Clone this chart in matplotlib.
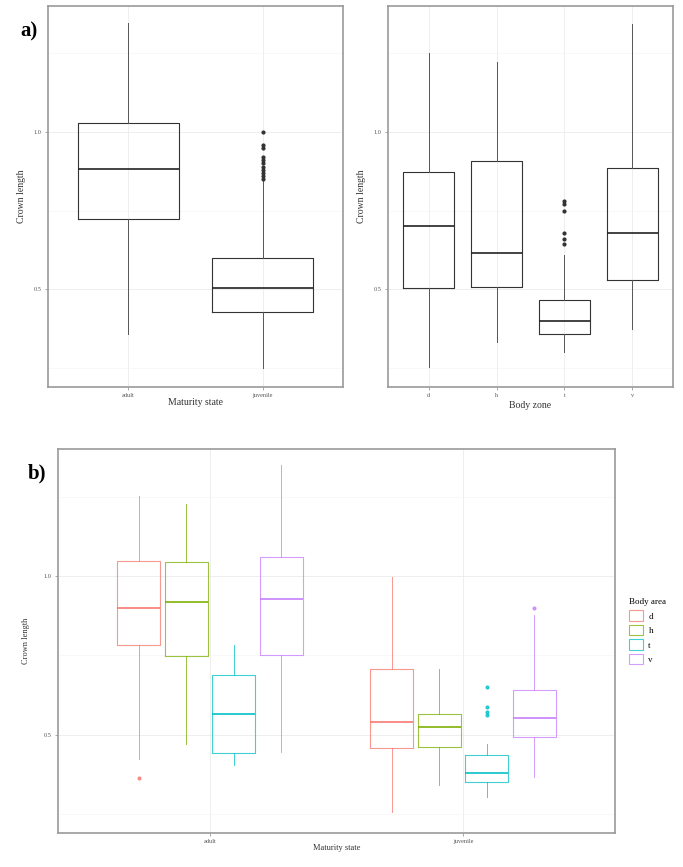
import matplotlib
matplotlib.use("Agg")
import matplotlib.pyplot as plt
from matplotlib.patches import Rectangle

plt.rcParams['font.family'] = ['Liberation Serif', 'DejaVu Serif']

# panel a, left: crown length by maturity state
maturity = ["adult", "juvenile"]
mat_whislo = [0.36, 0.25]
mat_q1 = [0.723, 0.427]
mat_med = [0.882, 0.506]
mat_q3 = [1.029, 0.599]
mat_whishi = [1.347, 0.845]
mat_fliers = [[], [1.0, 0.96, 0.95, 0.92, 0.91, 0.90, 0.89, 0.88, 0.87, 0.86, 0.85]]

# panel a, right: crown length by body zone
zones = ["d", "h", "t", "v"]
zone_whislo = [0.253, 0.332, 0.300, 0.375]
zone_q1 = [0.505, 0.507, 0.359, 0.531]
zone_med = [0.702, 0.617, 0.400, 0.678]
zone_q3 = [0.874, 0.908, 0.467, 0.886]
zone_whishi = [1.251, 1.221, 0.608, 1.343]
zone_fliers = [[], [], [0.78, 0.77, 0.75, 0.68, 0.66, 0.645], []]

# panel b: maturity state x body area
b_whislo = {"adult": [0.424, 0.472, 0.403, 0.445], "juvenile": [0.256, 0.340, 0.303, 0.366]}
b_q1 = {"adult": [0.782, 0.747, 0.443, 0.752], "juvenile": [0.458, 0.461, 0.351, 0.491]}
b_med = {"adult": [0.900, 0.919, 0.566, 0.926], "juvenile": [0.540, 0.524, 0.380, 0.551]}
b_q3 = {"adult": [1.047, 1.043, 0.687, 1.059], "juvenile": [0.706, 0.566, 0.437, 0.642]}
b_whishi = {"adult": [1.252, 1.226, 0.782, 1.350], "juvenile": [0.998, 0.706, 0.470, 0.877]}
b_fliers = {"adult": [[0.363], [], [], []],
            "juvenile": [[], [], [0.651, 0.587, 0.572, 0.562], [0.898]]}

zone_colors = ["#F8766D", "#7CAE00", "#00BFC4", "#C77CFF"]


def make_stats(lo, q1, med, q3, hi, fl):
    return [dict(whislo=a, q1=b, med=c, q3=d, whishi=e, fliers=f)
            for a, b, c, d, e, f in zip(lo, q1, med, q3, hi, fl)]


def style_axes(ax, n):
    ax.set_xlim(0.4, n + 0.6)
    ax.set_ylim(0.19, 1.40)
    ax.set_yticks([0.5, 1.0])
    ax.set_yticklabels(["0.5", "1.0"])
    ax.set_yticks([0.25, 0.75, 1.25], minor=True)
    ax.grid(True, which="major", color="#ebebeb", lw=0.6)
    ax.grid(True, which="minor", color="#f4f4f4", lw=0.4)
    ax.set_axisbelow(True)
    for s in ax.spines.values():
        s.set_color("#9a9a9a")
        s.set_linewidth(1.2)
    ax.tick_params(which="major", length=2.5, width=0.6, color="#9a9a9a",
                   labelsize=4.5, labelcolor="#555555", pad=2)
    ax.tick_params(which="minor", length=0)


fig = plt.figure(figsize=(6.83, 8.67), dpi=100)

# --- a) left
ax1 = fig.add_axes([0.0703, 0.5536, 0.4319, 0.4394])
ax1.bxp(make_stats(mat_whislo, mat_q1, mat_med, mat_q3, mat_whishi, mat_fliers),
        positions=[1, 2], widths=0.75, showcaps=False,
        boxprops=dict(color="#333333", lw=0.8),
        whiskerprops=dict(color="#555555", lw=0.7),
        medianprops=dict(color="#222222", lw=1.2),
        flierprops=dict(marker="o", markersize=2.0, markerfacecolor="#333333",
                        markeredgecolor="#333333"))
style_axes(ax1, 2)
ax1.set_xticks([1, 2])
ax1.set_xticklabels(maturity)
ax1.set_ylabel("Crown length", fontsize=7, color="#333333", labelpad=6)
ax1.set_xlabel("Maturity state", fontsize=7, color="#333333", labelpad=0)

# --- a) right
ax2 = fig.add_axes([0.5681, 0.5536, 0.4173, 0.4394])
ax2.bxp(make_stats(zone_whislo, zone_q1, zone_med, zone_q3, zone_whishi, zone_fliers),
        positions=[1, 2, 3, 4], widths=0.75, showcaps=False,
        boxprops=dict(color="#333333", lw=0.8),
        whiskerprops=dict(color="#555555", lw=0.7),
        medianprops=dict(color="#222222", lw=1.2),
        flierprops=dict(marker="o", markersize=2.0, markerfacecolor="#333333",
                        markeredgecolor="#333333"))
style_axes(ax2, 4)
ax2.set_xticks([1, 2, 3, 4])
ax2.set_xticklabels(zones)
ax2.set_ylabel("Crown length", fontsize=7, color="#333333", labelpad=6)
ax2.set_xlabel("Body zone", fontsize=7, color="#333333", labelpad=2)

# --- b)
ax3 = fig.add_axes([0.0849, 0.0392, 0.8155, 0.4429])
offsets = [-0.28125, -0.09375, 0.09375, 0.28125]
for i, m in enumerate(maturity):
    for j, z in enumerate(zones):
        st = make_stats([b_whislo[m][j]], [b_q1[m][j]], [b_med[m][j]], [b_q3[m][j]],
                        [b_whishi[m][j]], [b_fliers[m][j]])
        c = zone_colors[j]
        ax3.bxp(st, positions=[i + 1 + offsets[j]], widths=0.17, showcaps=False,
                manage_ticks=False,
                boxprops=dict(color=c, lw=0.8, alpha=0.75),
                whiskerprops=dict(color=c, lw=0.7, alpha=0.75),
                medianprops=dict(color=c, lw=1.3, alpha=0.9),
                flierprops=dict(marker="o", markersize=2.0, markerfacecolor=c,
                                markeredgecolor=c, alpha=0.75))
style_axes(ax3, 2)
ax3.set_xticks([1, 2])
ax3.set_xticklabels(maturity)
ax3.set_ylabel("Crown length", fontsize=6, color="#333333", labelpad=10)
ax3.set_xlabel("Maturity state", fontsize=6, color="#333333", labelpad=0)

handles = [Rectangle((0, 0), 1, 1, facecolor="white", edgecolor=c, lw=0.8, alpha=0.75)
           for c in zone_colors]
leg = fig.legend(handles, zones, title="Body area", loc="upper left",
                 bbox_to_anchor=(0.915, 0.315), frameon=False, fontsize=6.5,
                 title_fontsize=6.5, handlelength=1.5, handleheight=1.4,
                 labelspacing=0.45, borderpad=0, handletextpad=0.6)
leg._legend_box.align = "left"

fig.text(0.03, 0.975, "a)", fontsize=15, fontweight="bold", va="top")
fig.text(0.04, 0.465, "b)", fontsize=15, fontweight="bold", va="top")

fig.savefig("out.png", dpi=100)
